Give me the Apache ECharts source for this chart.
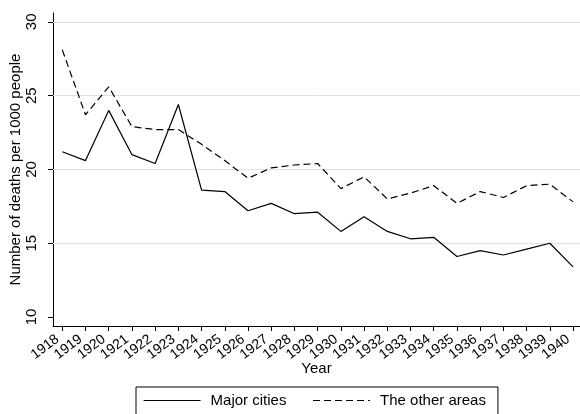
<!DOCTYPE html>
<html>
<head>
<meta charset="utf-8">
<script src="https://cdn.jsdelivr.net/npm/echarts@6/dist/echarts.min.js"></script>
<style>html,body{margin:0;padding:0;background:#fff;}#c{width:580px;height:414px;}</style>
</head>
<body>
<div id="c"></div>
<script>
var years = [1918,1919,1920,1921,1922,1923,1924,1925,1926,1927,1928,1929,1930,1931,1932,1933,1934,1935,1936,1937,1938,1939,1940];
var majorCities = [21.2,20.6,24.0,21.0,20.4,24.4,18.6,18.5,17.2,17.7,17.0,17.1,15.8,16.8,15.8,15.3,15.4,14.1,14.5,14.2,14.6,15.0,13.4];
var otherAreas = [28.1,23.7,25.6,22.9,22.7,22.7,21.7,20.6,19.4,20.1,20.3,20.4,18.7,19.5,18.0,18.4,18.9,17.7,18.5,18.1,18.9,19.0,17.8];
var yTicks = [10,15,20,25,30];
var gridValues = [15,20,25,30];
var seriesNames = ['Major cities','The other areas'];

var evenYears = years.filter(function(y){ return y % 2 === 0; });
var oddYears = years.filter(function(y){ return y % 2 === 1; });

var FONT = "'Liberation Sans', Arial, Helvetica, sans-serif";
function pairs(vals){ return years.map(function(y,i){ return [y, vals[i]]; }); }

var X_MIN = 1917.6, X_MAX = 1940.3;
var xLabelStyle = {rotate: 37, margin: 8, padding: [0, 6, 0, 0], fontFamily: FONT, fontSize: 14, color: '#000',
  showMinLabel: true, showMaxLabel: true, formatter: function(v){ return String(v); }};

var chart = echarts.init(document.getElementById('c'), null, {renderer:'canvas'});
chart.setOption({
  animation: false,
  backgroundColor: '#fff',
  textStyle: {fontFamily: FONT},
  grid: {left: 53, top: 13, right: 0, bottom: 88, containLabel: false},
  legend: {
    left: 136, top: 387,
    data: seriesNames,
    orient: 'horizontal',
    itemWidth: 57, itemHeight: 15, itemGap: 26,
    padding: [6, 12, 12, 7],
    borderColor: '#000', borderWidth: 1, borderRadius: 0,
    itemStyle: {opacity: 0},
    lineStyle: {color: '#000', width: 1.2, opacity: 1},
    textStyle: {fontFamily: FONT, fontSize: 15, color: '#000', padding: [0,0,0,5]}
  },
  xAxis: [
    {
      type: 'value', min: X_MIN, max: X_MAX, position: 'bottom',
      name: 'Year', nameLocation: 'middle', nameGap: 35, nameMoveOverlap: false,
      nameTextStyle: {fontFamily: FONT, fontSize: 15, color: '#000'},
      axisLine: {show: true, onZero: false, lineStyle: {color: '#000', width: 1}},
      axisTick: {show: true, length: 5, customValues: years, lineStyle: {color: '#000'}},
      axisLabel: Object.assign({customValues: evenYears}, xLabelStyle),
      splitLine: {show: false}
    },
    {
      type: 'value', min: X_MIN, max: X_MAX, position: 'bottom', offset: 0,
      axisLine: {show: false, onZero: false},
      axisTick: {show: false},
      axisLabel: Object.assign({customValues: oddYears}, xLabelStyle),
      splitLine: {show: false}
    }
  ],
  yAxis: {
    type: 'value', min: 9.39, max: 30.6,
    name: 'Number of deaths per 1000 people', nameLocation: 'middle', nameGap: 30, nameMoveOverlap: false,
    nameTextStyle: {fontFamily: FONT, fontSize: 15, color: '#000'},
    axisLine: {show: true, lineStyle: {color: '#000', width: 1}},
    axisTick: {show: true, length: 5, customValues: yTicks, lineStyle: {color: '#000'}},
    axisLabel: {customValues: yTicks, rotate: 90, margin: 14, fontFamily: FONT, fontSize: 15, color: '#000',
      showMinLabel: true, showMaxLabel: true},
    splitLine: {show: false}
  },
  series: [
    {
      name: seriesNames[0], type: 'line', data: pairs(majorCities), xAxisIndex: 0,
      symbol: 'none', showSymbol: false, z: 3,
      lineStyle: {color: '#000', width: 1.2, type: 'solid'},
      itemStyle: {color: '#000'},
      markLine: {
        silent: true, symbol: ['none','none'], animation: false, z: 1,
        label: {show: false},
        lineStyle: {color: '#e2e2e2', width: 1, type: 'solid'},
        data: gridValues.map(function(v){ return {yAxis: v}; })
      }
    },
    {
      name: seriesNames[1], type: 'line', data: pairs(otherAreas), xAxisIndex: 0,
      symbol: 'none', showSymbol: false, z: 3,
      lineStyle: {color: '#000', width: 1.2, type: [7,4]},
      itemStyle: {color: '#000'}
    }
  ]
});
</script>
</body>
</html>
